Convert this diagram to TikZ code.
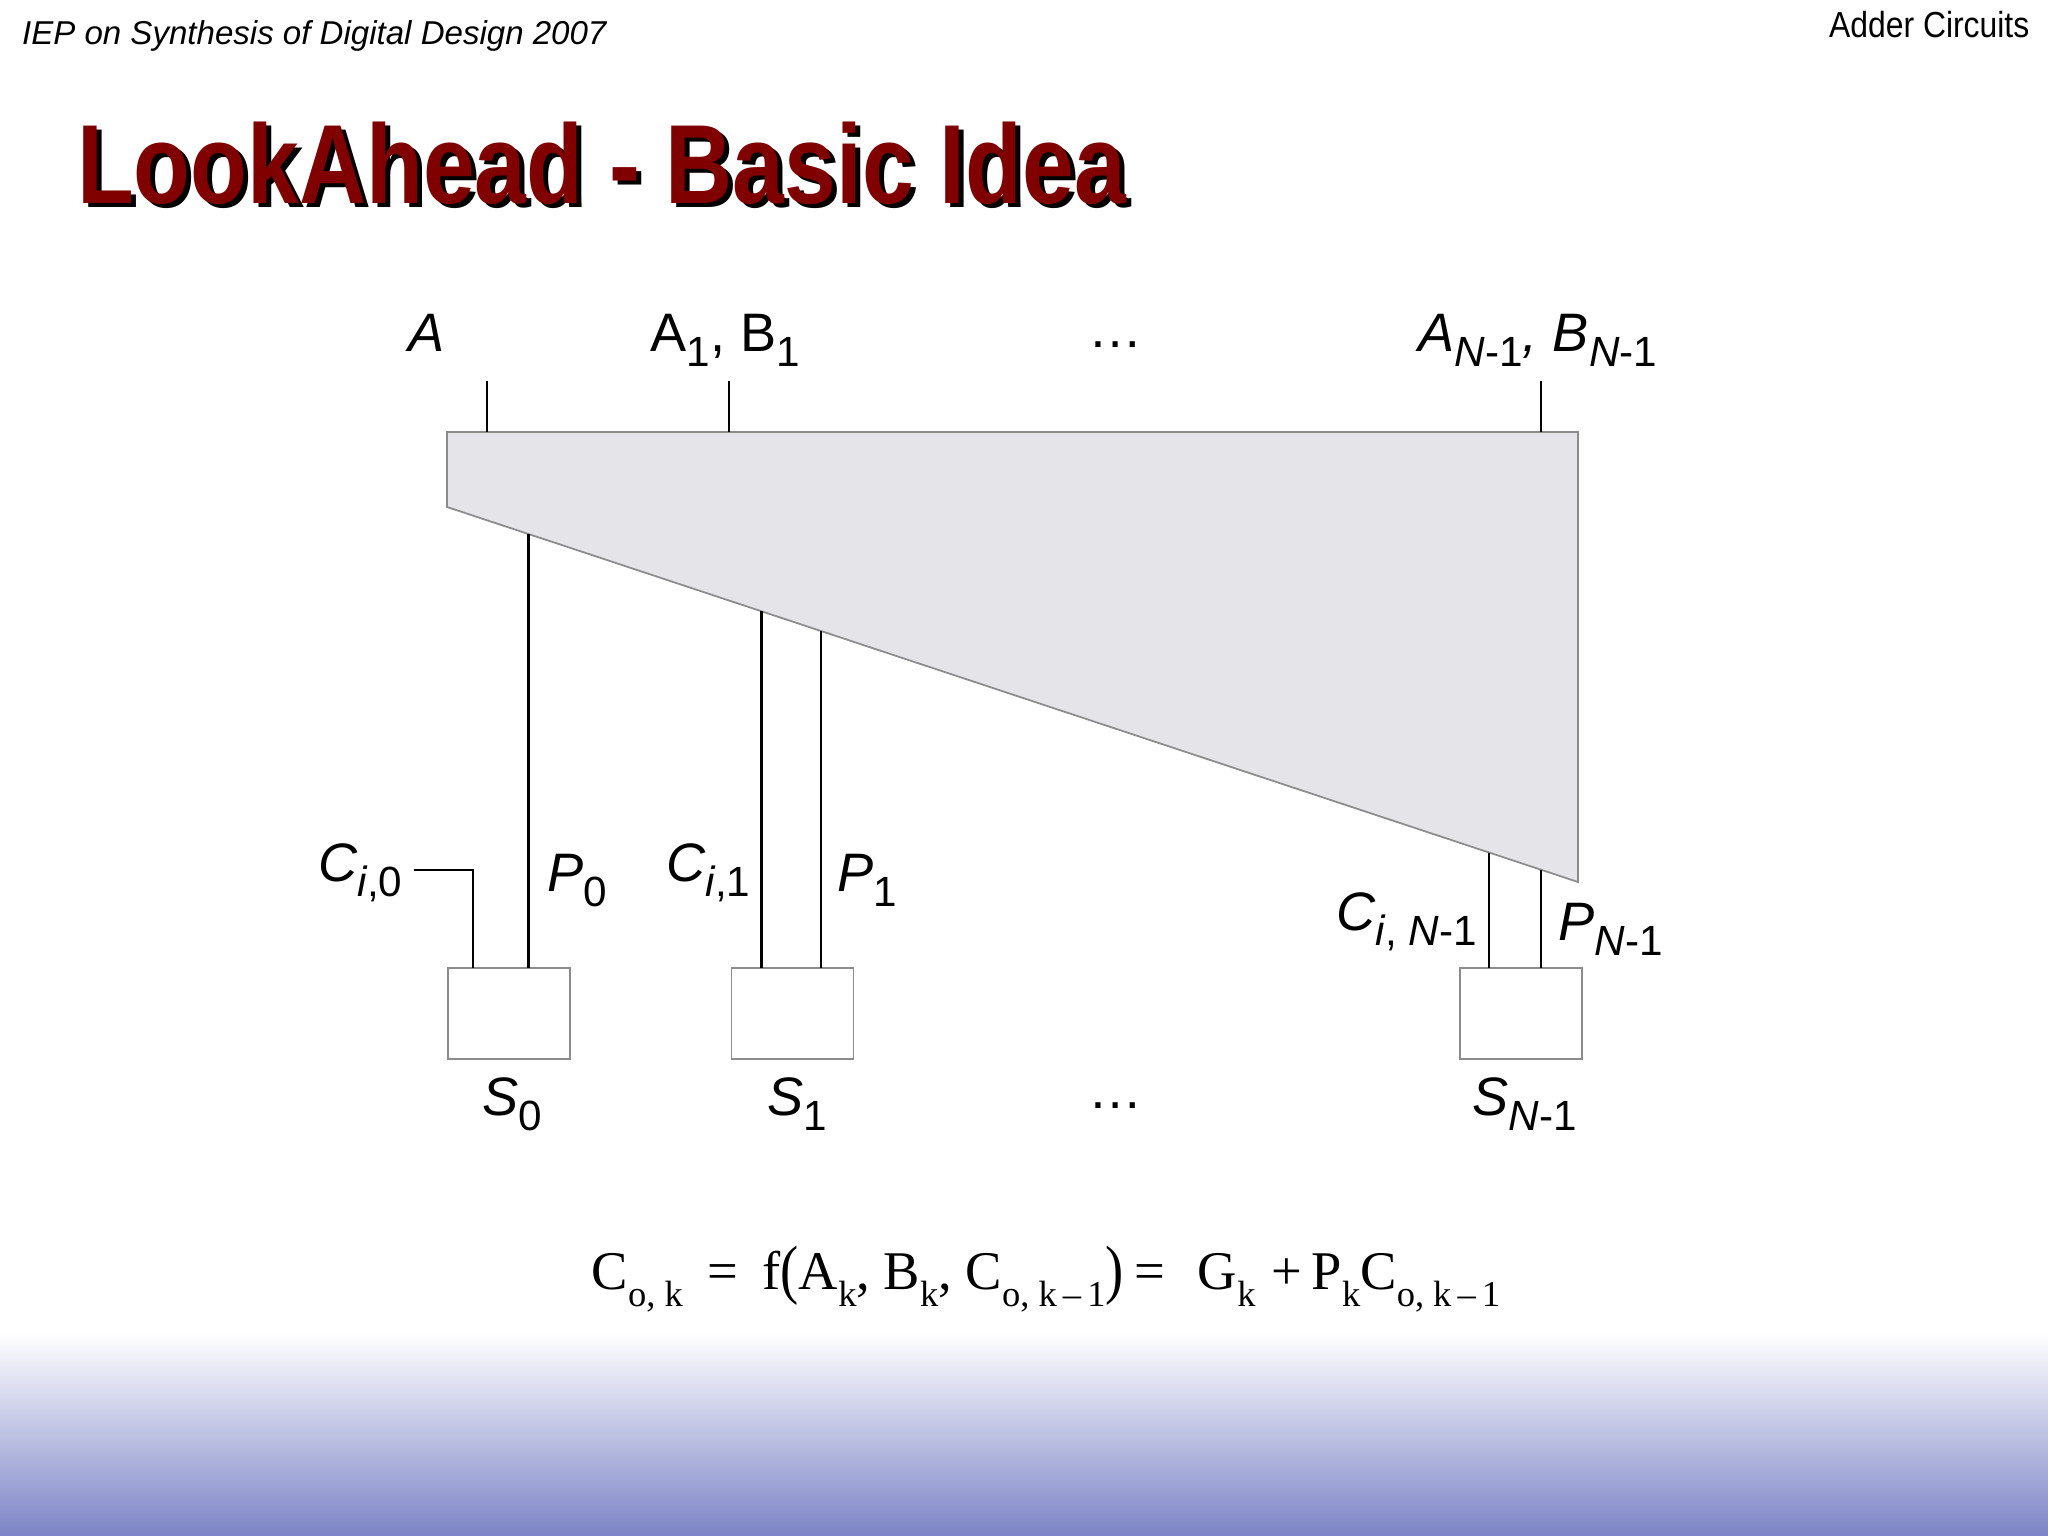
\documentclass[tikz,border=0pt]{standalone}
\usepackage{fontspec}
\usepackage{graphicx}
\setmainfont{Liberation Sans}
\newfontfamily\eqfont{Liberation Serif}
\definecolor{titlered}{RGB}{128,0,0}
\definecolor{blockgray}{RGB}{229,228,233}
\definecolor{edgegray}{RGB}{140,140,140}
\definecolor{bandblue}{RGB}{124,132,198}
\newcommand{\lsub}[1]{\raisebox{-0.28em}{\scalebox{0.78}{#1}}}
\newcommand{\esub}[1]{\raisebox{-0.32em}{\scalebox{0.67}{#1}}}
\newcommand{\tallpar}[1]{\raisebox{-0.05em}{\scalebox{1}[1.2]{#1}}}

\begin{document}
\begin{tikzpicture}[x=0.01cm,y=-0.01cm]
        \tikzstyle{signame}=[inner sep=0pt,anchor=base west,font=\fontsize{15.4}{18}\selectfont\itshape]
        \tikzstyle{headline}=[inner sep=0pt,anchor=base west,font=\fontsize{32}{36}\selectfont\bfseries]
        \tikzstyle{sumblock}=[draw=edgegray,line width=0.4pt,fill=white,minimum width=1.22cm,minimum height=0.91cm,inner sep=0pt,outer sep=0pt]
        \tikzstyle{wire}=[draw,line width=0.8pt]
        \useasboundingbox (0,0) rectangle (2048,1536);
        \fill[white] (0,0) rectangle (2048,1536);
        \shade[top color=white,bottom color=bandblue] (0,1333) rectangle (2048,1536);

        % slide header
        \node [inner sep=0pt,anchor=base west,font=\fontsize{9.4}{11}\selectfont\itshape] (course) at (21.4,44) {IEP on Synthesis of Digital Design 2007};
        \node [inner sep=0pt,anchor=base east,font=\fontsize{10.3}{12}\selectfont] (topic) at (2030,37.7) {\scalebox{0.88}[1]{Adder Circuits}};
        \node [headline,text=black] (titleshadow) at (81.5,207.3) {\scalebox{0.826}[1]{LookAhead - Basic Idea}};
        \node [headline,text=titlered] (title) at (76.5,203.3) {\scalebox{0.826}[1]{LookAhead - Basic Idea}};

        % lookahead block
        \coordinate (tl) at (447,432);
        \coordinate (tr) at (1578,432);
        \coordinate (br) at (1578,882);
        \coordinate (bl) at (447,507);
        \filldraw[fill=blockgray,draw=edgegray,line width=0.5pt] (tl) -- (tr) -- (br) -- (bl) -- cycle;

        \coordinate (inA) at (487,381);
        \coordinate (inB1) at (729,381);
        \coordinate (inN) at (1541,381);
        \path[wire] (inA) edge (inA |- tl);
        \path[wire] (inB1) edge (inB1 |- tl);
        \path[wire] (inN) edge (inN |- tl);

        \node [sumblock] (s0) at (509,1013.5) {};
        \node [sumblock] (s1) at (792.5,1013.5) {};
        \node [sumblock] (sN) at (1521,1013.5) {};

        \coordinate (p0) at (528.7,534.1);
        \coordinate (c1) at (761.7,611.3);
        \coordinate (p1) at (821,631);
        \coordinate (cN) at (1489,852.5);
        \coordinate (pN) at (1541,869.7);
        \coordinate (ci0) at (414,870);
        \coordinate (c0) at (473,870);
        \draw[wire] (ci0) -- (c0) -- (c0 |- s0.north);
        \path[wire] (p0) edge (p0 |- s0.north);
        \path[wire] (c1) edge (c1 |- s1.north);
        \path[wire] (p1) edge (p1 |- s1.north);
        \path[wire] (cN) edge (cN |- sN.north);
        \path[wire] (pN) edge (pN |- sN.north);

        % signal names
        \node [signame] (lA) at (408,351.7) {A};
        \node [signame] (lAB1) at (650,351.7) {\upshape A\lsub{1}, B\lsub{1}};
        \node [signame] (ldots) at (1088,347) {\upshape\ldots};
        \node [signame] (lABN) at (1418,351.7) {A\lsub{N\upshape -1}, B\lsub{N\upshape -1}};
        \node [signame] (lci0) at (318,881.7) {C\lsub{i\upshape ,0}};
        \node [signame] (lp0) at (547,891.7) {P\lsub{\upshape 0}};
        \node [signame] (lci1) at (666,881.7) {C\lsub{i\upshape ,1}};
        \node [signame] (lp1) at (837,891.7) {P\lsub{\upshape 1}};
        \node [signame] (lciN) at (1336,930) {C\lsub{i\upshape , \itshape N\upshape -1}};
        \node [signame] (lpN) at (1558,940) {P\lsub{N\upshape -1}};
        \node [signame] (ls0) at (482,1115) {S\lsub{\upshape 0}};
        \node [signame] (ls1) at (767,1115) {S\lsub{\upshape 1}};
        \node [signame] (lsdots) at (1088,1108) {\upshape\ldots};
        \node [signame] (lsN) at (1472,1115) {S\lsub{N\upshape -1}};

        \node [inner sep=0pt,anchor=base west,font=\eqfont\fontsize{15.5}{18}\selectfont] (carry) at (591,1289)
          {C\esub{o, k}\hspace{0.45em}=\hspace{0.45em}f\tallpar{(}A\esub{k}, B\esub{k}, C\esub{o, k\,–\,1}\tallpar{)}\hspace{0.2em}=\hspace{0.6em}G\esub{k}\hspace{0.3em}+\,P\esub{k}C\esub{o, k\,–\,1}};
\end{tikzpicture}
\end{document}
